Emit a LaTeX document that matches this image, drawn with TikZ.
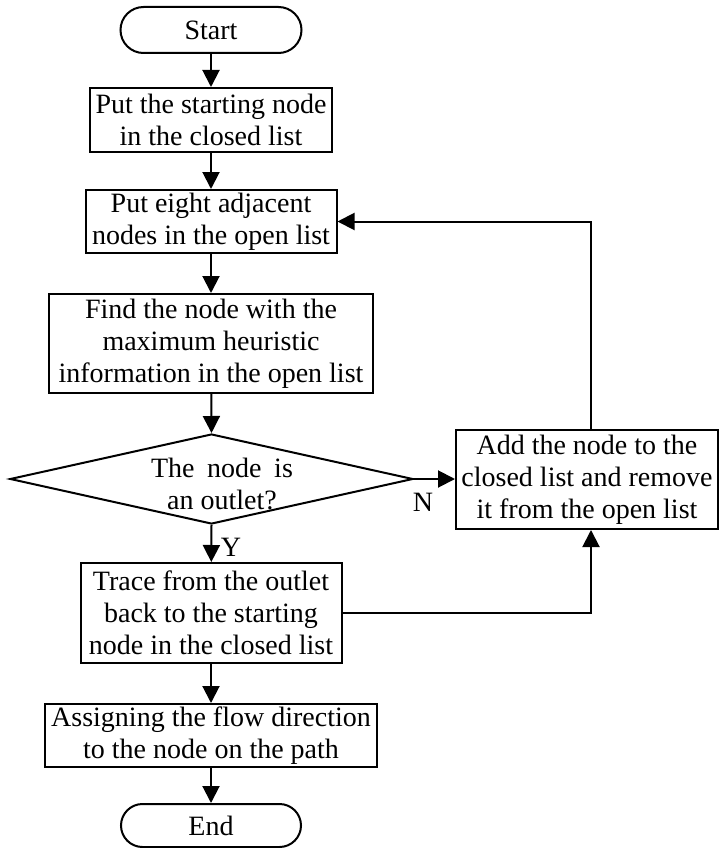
\documentclass[tikz,border=0pt]{standalone}
\usepackage{fontspec}
\setmainfont{Liberation Serif}
\usetikzlibrary{shapes.geometric,shapes.misc,arrows.meta,calc}
\begin{document}
\begin{tikzpicture}[x=1pt,y=-1pt,
  every node/.style={font=\fontsize{28}{32}\selectfont, align=center, inner sep=0pt},
  stepbox/.style={draw, line width=2pt, rectangle},
  term/.style={draw, line width=2pt, rounded rectangle},
  conn/.style={line width=2pt},
  arr/.style={line width=2pt, -{Triangle[width=17pt,length=17pt]}},
  lbl/.style={font=\fontsize{28}{32}\selectfont}
]
\useasboundingbox (0,0) rectangle (720,848);
\node[term, minimum width=181, minimum height=46] (start) at (211,30) {Start};
\node[stepbox, minimum width=242, minimum height=64] (b1) at (211,120) {Put the starting node\\in the closed list};
\node[stepbox, minimum width=251, minimum height=63] (b2) at (211,221.5) {Put eight adjacent\\nodes in the open list};
\node[stepbox, minimum width=324, minimum height=99] (b3) at (211,343.5) {Find the node with the\\maximum heuristic\\information in the open list};
\node[draw, line width=2pt, diamond, minimum width=403, minimum height=90] (dia) at (211.5,479) {};
\node (diat) at (222,484) {The\hspace{0.45em}node\hspace{0.45em}is\\an outlet?};
\node[stepbox, minimum width=262, minimum height=99] (rb) at (587,479.5) {Add the node to the\\closed list and remove\\it from the open list};
\node[stepbox, minimum width=261, minimum height=100] (b4) at (211,613) {Trace from the outlet\\back to the starting\\node in the closed list};
\node[stepbox, minimum width=332, minimum height=63] (b5) at (211,735.5) {Assigning the flow direction\\to the node on the path};
\node[term, minimum width=180, minimum height=43] (end) at (211,825.5) {End};
\node[lbl] (nl) at (423,502) {N};
\node[lbl] (yl) at (231,547) {Y};
\coordinate (fx) at (591,0);
\draw[arr] (start) -- (b1);
\draw[arr] (b1) -- (b2);
\draw[arr] (b2) -- (b3);
\draw[arr] (b3) -- (dia.north);
\draw[arr] (dia.south) -- (b4);
\draw[arr] (b4) -- (b5);
\draw[arr] (b5) -- (end);
\draw[arr] (dia.east) -- (dia.east -| rb.west);
\draw[arr] (rb.north -| fx) |- (b2.east);
\draw[arr] (b4.east) -| (rb.south -| fx);
\end{tikzpicture}
\end{document}
